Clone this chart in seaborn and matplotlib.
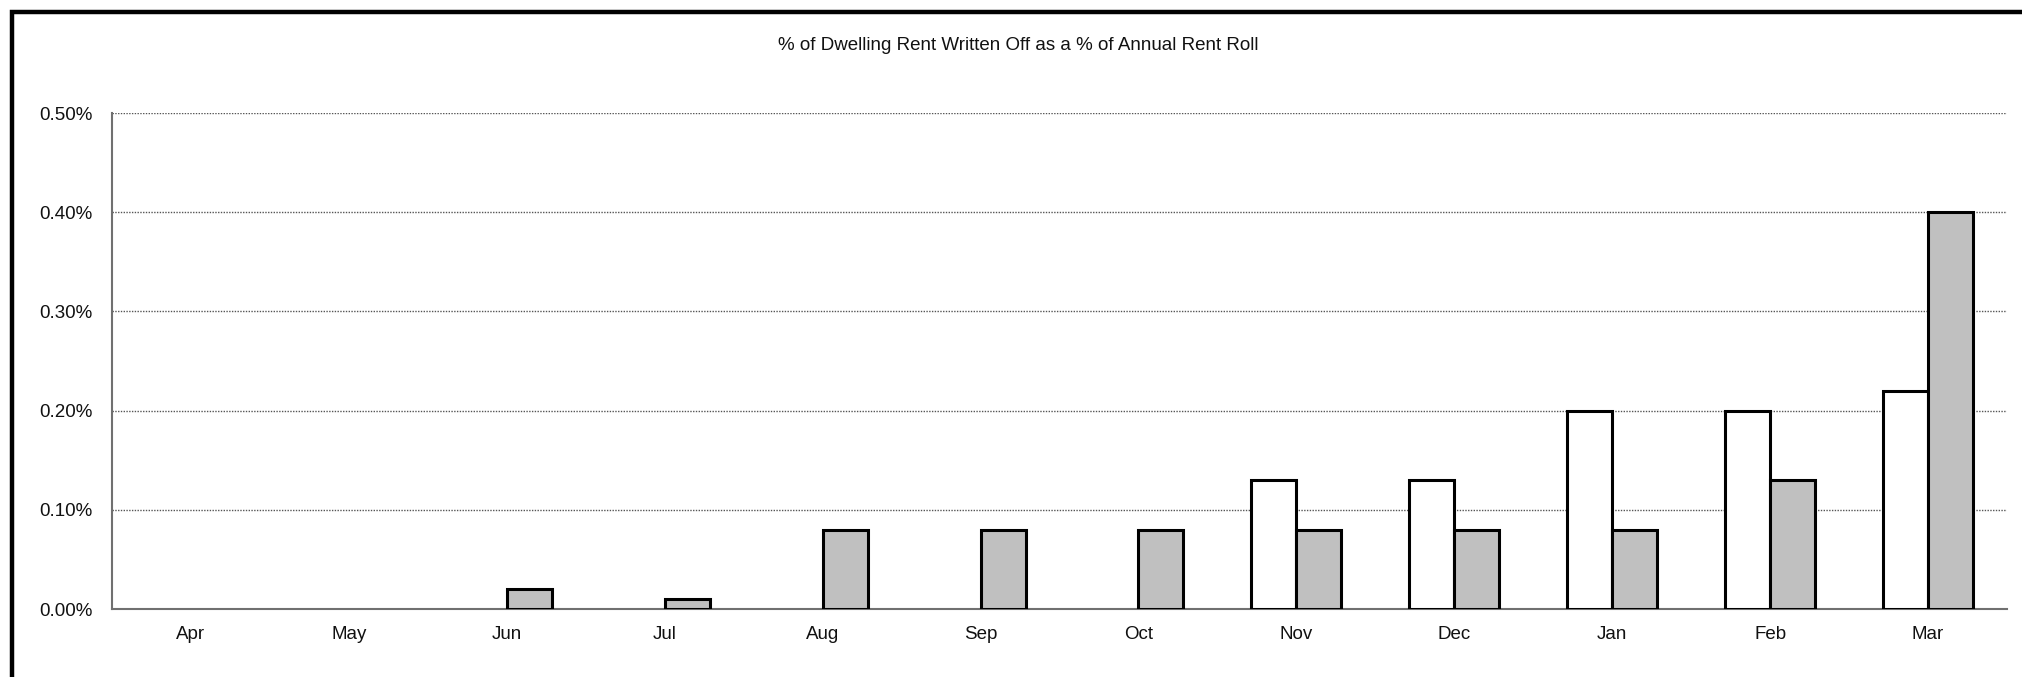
import matplotlib
matplotlib.use("Agg")
import matplotlib.pyplot as plt
from matplotlib.patches import Rectangle
from matplotlib.ticker import FuncFormatter, FixedLocator, NullFormatter
import numpy as np
import pandas as pd
import seaborn as sns

months = ["Apr", "May", "Jun", "Jul", "Aug", "Sep", "Oct", "Nov", "Dec", "Jan", "Feb", "Mar"]
target_pct = [0, 0, 0, 0, 0, 0, 0, 0.13, 0.13, 0.20, 0.20, 0.22]
actual_pct = [0, 0, 0.02, 0.01, 0.08, 0.08, 0.08, 0.08, 0.08, 0.08, 0.13, 0.40]
series_names = ["Target", "Actual"]
title = "% of Dwelling Rent Written Off as a % of Annual Rent Roll"

df = pd.DataFrame({
    "month": months * 2,
    "value": target_pct + actual_pct,
    "series": [series_names[0]] * len(months) + [series_names[1]] * len(months),
})

sns.set_style("white")
plt.rcParams["font.family"] = ["Liberation Sans", "DejaVu Sans"]

fig = plt.figure(figsize=(20.22, 6.77), dpi=100)
ax = fig.add_axes([112 / 2022, 1 - 609 / 677, (2007 - 112) / 2022, (609 - 113) / 677])

sns.barplot(data=df, x="month", y="value", hue="series", order=months,
            hue_order=series_names, palette=["white", "#C0C0C0"],
            edgecolor="black", linewidth=2.2, width=0.57, dodge=True,
            legend=False, ax=ax, zorder=3)

# Zero-valued months carry no visible bar
for p in ax.patches:
    if p.get_height() == 0:
        p.set_visible(False)

ax.set_xlim(-0.5, len(months) - 0.5)
ax.set_ylim(0, 0.5)
ax.set_yticks(np.arange(0, 0.51, 0.1))
ax.yaxis.set_major_formatter(FuncFormatter(lambda v, _: f"{v:.2f}%"))
ax.grid(axis="y", color="#555555", linestyle=(0, (1, 1)), linewidth=1.0, zorder=0)
ax.grid(axis="x", visible=False)

# Category labels at centres, tick marks at boundaries
ax.set_xticks(range(len(months)))
ax.set_xticklabels(months)
ax.tick_params(axis="x", which="major", length=0, pad=12, labelsize=13.5, labelcolor="#111111")
ax.xaxis.set_minor_locator(FixedLocator(np.arange(-0.5, len(months), 1.0)))
ax.xaxis.set_minor_formatter(NullFormatter())
ax.tick_params(axis="x", which="minor", length=5, width=1.2, color="#707070", direction="out")
ax.tick_params(axis="y", length=6, width=1.2, color="#707070", direction="out", pad=8,
               labelsize=13.5, labelcolor="#111111")

for s in ["top", "right"]:
    ax.spines[s].set_visible(False)
for s in ["left", "bottom"]:
    ax.spines[s].set_color("#707070")
    ax.spines[s].set_linewidth(1.5)

ax.set_xlabel("")
ax.set_ylabel("")

fig.text(1018 / 2022, 1 - 46 / 677, title, ha="center", va="center", fontsize=13.5,
         color="#111111")

# Outer chart frame
fig.patches.append(Rectangle((12 / 2022, -0.1), 1.2, 1 - 12 / 677 + 0.1,
                             transform=fig.transFigure, fill=False,
                             edgecolor="black", linewidth=3.2, zorder=10))

fig.savefig("out.png", dpi=100, facecolor="white")
